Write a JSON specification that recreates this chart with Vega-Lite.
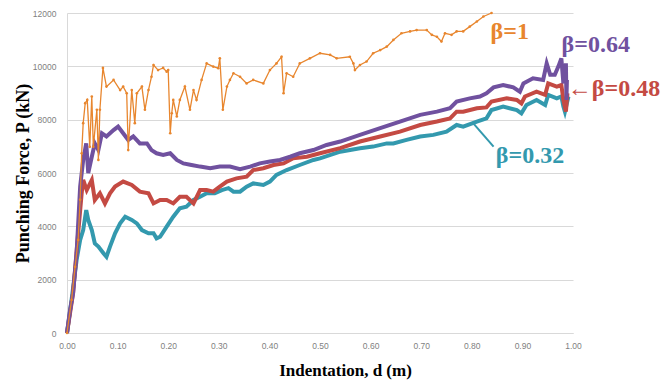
{
  "$schema": "https://vega.github.io/schema/vega-lite/v6.json",
  "width": 506,
  "height": 320,
  "autosize": {"type": "none"},
  "padding": {"left": 67, "top": 13, "right": 93, "bottom": 49},
  "background": "white",
  "config": {
    "view": {"stroke": null},
    "axis": {"labelFont": "Liberation Sans", "labelFontSize": 8.5, "labelColor": "#7f7f7f", "labelFlush": false, "titleFont": "Liberation Serif", "titleFontWeight": "bold", "titleColor": "#000000", "ticks": false, "gridColor": "#d9d9d9", "domainColor": "#d9d9d9"}
  },
  "datasets": {
    "curves": [
      {"s":"β=0.32","d":0,"p":0},{"s":"β=0.32","d":0.009,"p":1240},{"s":"β=0.32","d":0.019,"p":2740},{"s":"β=0.32","d":0.026,"p":3490},{"s":"β=0.32","d":0.032,"p":3860},{"s":"β=0.32","d":0.038,"p":4610},{"s":"β=0.32","d":0.042,"p":4240},{"s":"β=0.32","d":0.049,"p":3860},{"s":"β=0.32","d":0.055,"p":3360},{"s":"β=0.32","d":0.062,"p":3240},{"s":"β=0.32","d":0.072,"p":2990},{"s":"β=0.32","d":0.078,"p":2860},{"s":"β=0.32","d":0.085,"p":3240},{"s":"β=0.32","d":0.095,"p":3740},{"s":"β=0.32","d":0.105,"p":4110},{"s":"β=0.32","d":0.115,"p":4360},{"s":"β=0.32","d":0.128,"p":4240},{"s":"β=0.32","d":0.138,"p":4110},{"s":"β=0.32","d":0.148,"p":3860},{"s":"β=0.32","d":0.161,"p":3740},{"s":"β=0.32","d":0.171,"p":3740},{"s":"β=0.32","d":0.177,"p":3550},{"s":"β=0.32","d":0.184,"p":3610},{"s":"β=0.32","d":0.197,"p":3990},{"s":"β=0.32","d":0.21,"p":4360},{"s":"β=0.32","d":0.223,"p":4680},{"s":"β=0.32","d":0.236,"p":4740},{"s":"β=0.32","d":0.25,"p":4990},{"s":"β=0.32","d":0.263,"p":5110},{"s":"β=0.32","d":0.276,"p":5240},{"s":"β=0.32","d":0.292,"p":5240},{"s":"β=0.32","d":0.306,"p":5360},{"s":"β=0.32","d":0.319,"p":5430},{"s":"β=0.32","d":0.329,"p":5300},{"s":"β=0.32","d":0.342,"p":5300},{"s":"β=0.32","d":0.355,"p":5490},{"s":"β=0.32","d":0.368,"p":5610},{"s":"β=0.32","d":0.388,"p":5550},{"s":"β=0.32","d":0.401,"p":5680},{"s":"β=0.32","d":0.414,"p":5930},{"s":"β=0.32","d":0.434,"p":6110},{"s":"β=0.32","d":0.46,"p":6300},{"s":"β=0.32","d":0.487,"p":6490},{"s":"β=0.32","d":0.5,"p":6550},{"s":"β=0.32","d":0.54,"p":6800},{"s":"β=0.32","d":0.579,"p":6930},{"s":"β=0.32","d":0.605,"p":6990},{"s":"β=0.32","d":0.632,"p":7110},{"s":"β=0.32","d":0.645,"p":7110},{"s":"β=0.32","d":0.671,"p":7240},{"s":"β=0.32","d":0.698,"p":7370},{"s":"β=0.32","d":0.724,"p":7430},{"s":"β=0.32","d":0.75,"p":7550},{"s":"β=0.32","d":0.77,"p":7800},{"s":"β=0.32","d":0.783,"p":7740},{"s":"β=0.32","d":0.81,"p":7930},{"s":"β=0.32","d":0.829,"p":8050},{"s":"β=0.32","d":0.839,"p":8360},{"s":"β=0.32","d":0.862,"p":8490},{"s":"β=0.32","d":0.889,"p":8360},{"s":"β=0.32","d":0.898,"p":8240},{"s":"β=0.32","d":0.908,"p":8550},{"s":"β=0.32","d":0.928,"p":8740},{"s":"β=0.32","d":0.945,"p":8550},{"s":"β=0.32","d":0.951,"p":8930},{"s":"β=0.32","d":0.968,"p":8800},{"s":"β=0.32","d":0.977,"p":8870},{"s":"β=0.32","d":0.981,"p":8490},{"s":"β=0.32","d":0.984,"p":8300},{"s":"β=0.32","d":0.991,"p":8870},
      {"s":"β=0.48","d":0,"p":0},{"s":"β=0.48","d":0.012,"p":1490},{"s":"β=0.48","d":0.022,"p":3740},{"s":"β=0.48","d":0.029,"p":5240},{"s":"β=0.48","d":0.032,"p":5740},{"s":"β=0.48","d":0.039,"p":5360},{"s":"β=0.48","d":0.049,"p":5740},{"s":"β=0.48","d":0.055,"p":4990},{"s":"β=0.48","d":0.065,"p":5240},{"s":"β=0.48","d":0.075,"p":4860},{"s":"β=0.48","d":0.085,"p":5240},{"s":"β=0.48","d":0.095,"p":5490},{"s":"β=0.48","d":0.111,"p":5680},{"s":"β=0.48","d":0.128,"p":5550},{"s":"β=0.48","d":0.144,"p":5300},{"s":"β=0.48","d":0.161,"p":5240},{"s":"β=0.48","d":0.171,"p":4860},{"s":"β=0.48","d":0.184,"p":4990},{"s":"β=0.48","d":0.197,"p":4990},{"s":"β=0.48","d":0.21,"p":4860},{"s":"β=0.48","d":0.223,"p":5110},{"s":"β=0.48","d":0.236,"p":5110},{"s":"β=0.48","d":0.25,"p":4860},{"s":"β=0.48","d":0.263,"p":5360},{"s":"β=0.48","d":0.276,"p":5360},{"s":"β=0.48","d":0.289,"p":5300},{"s":"β=0.48","d":0.302,"p":5490},{"s":"β=0.48","d":0.316,"p":5680},{"s":"β=0.48","d":0.335,"p":5800},{"s":"β=0.48","d":0.355,"p":5860},{"s":"β=0.48","d":0.368,"p":6110},{"s":"β=0.48","d":0.388,"p":6180},{"s":"β=0.48","d":0.408,"p":6300},{"s":"β=0.48","d":0.428,"p":6360},{"s":"β=0.48","d":0.447,"p":6550},{"s":"β=0.48","d":0.474,"p":6610},{"s":"β=0.48","d":0.5,"p":6740},{"s":"β=0.48","d":0.54,"p":6930},{"s":"β=0.48","d":0.579,"p":7180},{"s":"β=0.48","d":0.619,"p":7370},{"s":"β=0.48","d":0.658,"p":7550},{"s":"β=0.48","d":0.698,"p":7800},{"s":"β=0.48","d":0.731,"p":7930},{"s":"β=0.48","d":0.757,"p":8050},{"s":"β=0.48","d":0.77,"p":8300},{"s":"β=0.48","d":0.783,"p":8300},{"s":"β=0.48","d":0.81,"p":8430},{"s":"β=0.48","d":0.829,"p":8460},{"s":"β=0.48","d":0.839,"p":8680},{"s":"β=0.48","d":0.869,"p":8800},{"s":"β=0.48","d":0.889,"p":8740},{"s":"β=0.48","d":0.898,"p":8610},{"s":"β=0.48","d":0.905,"p":8870},{"s":"β=0.48","d":0.928,"p":9050},{"s":"β=0.48","d":0.945,"p":8930},{"s":"β=0.48","d":0.951,"p":9360},{"s":"β=0.48","d":0.968,"p":9240},{"s":"β=0.48","d":0.977,"p":9300},{"s":"β=0.48","d":0.981,"p":8740},{"s":"β=0.48","d":0.986,"p":8300},{"s":"β=0.48","d":0.989,"p":8990},
      {"s":"β=0.64","d":0,"p":0},{"s":"β=0.64","d":0.006,"p":860},{"s":"β=0.64","d":0.012,"p":1490},{"s":"β=0.64","d":0.019,"p":3000},{"s":"β=0.64","d":0.026,"p":5490},{"s":"β=0.64","d":0.032,"p":6490},{"s":"β=0.64","d":0.038,"p":7110},{"s":"β=0.64","d":0.042,"p":6000},{"s":"β=0.64","d":0.049,"p":6610},{"s":"β=0.64","d":0.055,"p":7110},{"s":"β=0.64","d":0.062,"p":6860},{"s":"β=0.64","d":0.069,"p":7490},{"s":"β=0.64","d":0.078,"p":7370},{"s":"β=0.64","d":0.092,"p":7610},{"s":"β=0.64","d":0.101,"p":7740},{"s":"β=0.64","d":0.111,"p":7490},{"s":"β=0.64","d":0.121,"p":7240},{"s":"β=0.64","d":0.131,"p":7370},{"s":"β=0.64","d":0.144,"p":7110},{"s":"β=0.64","d":0.158,"p":7110},{"s":"β=0.64","d":0.167,"p":6860},{"s":"β=0.64","d":0.177,"p":6740},{"s":"β=0.64","d":0.19,"p":6680},{"s":"β=0.64","d":0.204,"p":6740},{"s":"β=0.64","d":0.217,"p":6490},{"s":"β=0.64","d":0.23,"p":6360},{"s":"β=0.64","d":0.246,"p":6300},{"s":"β=0.64","d":0.263,"p":6240},{"s":"β=0.64","d":0.283,"p":6180},{"s":"β=0.64","d":0.302,"p":6240},{"s":"β=0.64","d":0.322,"p":6240},{"s":"β=0.64","d":0.342,"p":6140},{"s":"β=0.64","d":0.362,"p":6240},{"s":"β=0.64","d":0.381,"p":6360},{"s":"β=0.64","d":0.401,"p":6430},{"s":"β=0.64","d":0.421,"p":6490},{"s":"β=0.64","d":0.441,"p":6610},{"s":"β=0.64","d":0.46,"p":6740},{"s":"β=0.64","d":0.487,"p":6860},{"s":"β=0.64","d":0.513,"p":7050},{"s":"β=0.64","d":0.54,"p":7180},{"s":"β=0.64","d":0.579,"p":7430},{"s":"β=0.64","d":0.619,"p":7680},{"s":"β=0.64","d":0.658,"p":7930},{"s":"β=0.64","d":0.698,"p":8180},{"s":"β=0.64","d":0.731,"p":8300},{"s":"β=0.64","d":0.757,"p":8430},{"s":"β=0.64","d":0.77,"p":8680},{"s":"β=0.64","d":0.796,"p":8800},{"s":"β=0.64","d":0.816,"p":8870},{"s":"β=0.64","d":0.829,"p":8990},{"s":"β=0.64","d":0.843,"p":9210},{"s":"β=0.64","d":0.862,"p":9300},{"s":"β=0.64","d":0.882,"p":9210},{"s":"β=0.64","d":0.895,"p":9050},{"s":"β=0.64","d":0.902,"p":9360},{"s":"β=0.64","d":0.921,"p":9550},{"s":"β=0.64","d":0.941,"p":9490},{"s":"β=0.64","d":0.948,"p":10110},{"s":"β=0.64","d":0.955,"p":9680},{"s":"β=0.64","d":0.964,"p":9680},{"s":"β=0.64","d":0.971,"p":9990},{"s":"β=0.64","d":0.977,"p":10300},{"s":"β=0.64","d":0.981,"p":9360},{"s":"β=0.64","d":0.986,"p":10110},{"s":"β=0.64","d":0.987,"p":8740},{"s":"β=0.64","d":0.988,"p":9490},
      {"s":"β=1","d":0,"p":0},{"s":"β=1","d":0.009,"p":1240},{"s":"β=1","d":0.016,"p":2480},{"s":"β=1","d":0.022,"p":3490},{"s":"β=1","d":0.026,"p":5000},{"s":"β=1","d":0.029,"p":6740},{"s":"β=1","d":0.032,"p":7870},{"s":"β=1","d":0.036,"p":8620},{"s":"β=1","d":0.04,"p":8740},{"s":"β=1","d":0.045,"p":6980},{"s":"β=1","d":0.049,"p":8870},{"s":"β=1","d":0.052,"p":6980},{"s":"β=1","d":0.059,"p":8370},{"s":"β=1","d":0.062,"p":6490},{"s":"β=1","d":0.065,"p":8370},{"s":"β=1","d":0.071,"p":9940},{"s":"β=1","d":0.078,"p":9240},{"s":"β=1","d":0.092,"p":9490},{"s":"β=1","d":0.105,"p":9110},{"s":"β=1","d":0.111,"p":9240},{"s":"β=1","d":0.118,"p":8990},{"s":"β=1","d":0.121,"p":6860},{"s":"β=1","d":0.128,"p":9110},{"s":"β=1","d":0.134,"p":7870},{"s":"β=1","d":0.138,"p":8990},{"s":"β=1","d":0.148,"p":9240},{"s":"β=1","d":0.154,"p":8370},{"s":"β=1","d":0.161,"p":9110},{"s":"β=1","d":0.167,"p":9610},{"s":"β=1","d":0.171,"p":10050},{"s":"β=1","d":0.18,"p":9860},{"s":"β=1","d":0.19,"p":9940},{"s":"β=1","d":0.197,"p":9800},{"s":"β=1","d":0.2,"p":9860},{"s":"β=1","d":0.204,"p":7490},{"s":"β=1","d":0.207,"p":8240},{"s":"β=1","d":0.21,"p":8740},{"s":"β=1","d":0.217,"p":8120},{"s":"β=1","d":0.223,"p":8740},{"s":"β=1","d":0.233,"p":9240},{"s":"β=1","d":0.243,"p":8370},{"s":"β=1","d":0.25,"p":9110},{"s":"β=1","d":0.256,"p":8740},{"s":"β=1","d":0.266,"p":9490},{"s":"β=1","d":0.276,"p":10110},{"s":"β=1","d":0.289,"p":9990},{"s":"β=1","d":0.299,"p":9930},{"s":"β=1","d":0.302,"p":10300},{"s":"β=1","d":0.308,"p":8370},{"s":"β=1","d":0.316,"p":9240},{"s":"β=1","d":0.322,"p":9490},{"s":"β=1","d":0.329,"p":9740},{"s":"β=1","d":0.342,"p":9610},{"s":"β=1","d":0.355,"p":9360},{"s":"β=1","d":0.368,"p":9490},{"s":"β=1","d":0.388,"p":9360},{"s":"β=1","d":0.401,"p":9860},{"s":"β=1","d":0.414,"p":10110},{"s":"β=1","d":0.424,"p":10360},{"s":"β=1","d":0.428,"p":8990},{"s":"β=1","d":0.434,"p":9740},{"s":"β=1","d":0.447,"p":9610},{"s":"β=1","d":0.46,"p":10110},{"s":"β=1","d":0.48,"p":10300},{"s":"β=1","d":0.5,"p":10490},{"s":"β=1","d":0.52,"p":10430},{"s":"β=1","d":0.533,"p":10300},{"s":"β=1","d":0.559,"p":10360},{"s":"β=1","d":0.566,"p":10110},{"s":"β=1","d":0.569,"p":9860},{"s":"β=1","d":0.579,"p":10050},{"s":"β=1","d":0.592,"p":10180},{"s":"β=1","d":0.605,"p":10490},{"s":"β=1","d":0.619,"p":10610},{"s":"β=1","d":0.632,"p":10740},{"s":"β=1","d":0.645,"p":10990},{"s":"β=1","d":0.661,"p":11240},{"s":"β=1","d":0.678,"p":11310},{"s":"β=1","d":0.691,"p":11360},{"s":"β=1","d":0.711,"p":11360},{"s":"β=1","d":0.721,"p":11180},{"s":"β=1","d":0.731,"p":11110},{"s":"β=1","d":0.74,"p":10930},{"s":"β=1","d":0.747,"p":11240},{"s":"β=1","d":0.76,"p":11180},{"s":"β=1","d":0.77,"p":11310},{"s":"β=1","d":0.783,"p":11310},{"s":"β=1","d":0.796,"p":11490},{"s":"β=1","d":0.81,"p":11680},{"s":"β=1","d":0.823,"p":11870},{"s":"β=1","d":0.839,"p":12000}
    ],
    "labels": [
      {"s":"β=1","t":"β=1","d":0.875,"p":11290},
      {"s":"β=0.64","t":"β=0.64","d":1.045,"p":10800},
      {"s":"β=0.48","t":"←β=0.48","d":1.081,"p":9150},
      {"s":"β=0.32","t":"β=0.32","d":0.915,"p":6640}
    ],
    "leader": [
      {"s":"β=0.32","d":0.803,"p":7860,"d2":0.843,"p2":6990}
    ]
  },
  "layer": [
    {
      "data": {"name": "curves"},
      "transform": [{"filter": "datum.s !== 'β=1'"}],
      "mark": {"type": "line", "strokeWidth": 4, "interpolate": "linear"},
      "encoding": {
        "x": {"field": "d", "type": "quantitative", "scale": {"domain": [0, 1]},
          "axis": {"values": [0,0.1,0.2,0.3,0.4,0.5,0.6,0.7,0.8,0.9,1.0], "format": ".2f", "grid": false, "domain": true, "labelPadding": 8,
            "title": "Indentation, d (m)", "titleFontSize": 17, "titleX": 278, "titleY": 37, "titleBaseline": "middle", "titleAlign": "center"}},
        "y": {"field": "p", "type": "quantitative", "scale": {"domain": [0, 12000]},
          "axis": {"values": [0,2000,4000,6000,8000,10000,12000], "format": "d", "grid": true, "domain": true, "labelPadding": 11,
            "title": "Punching Force, P (kN)", "titleFontSize": 18, "titleAngle": -90, "titleX": -44, "titleY": 160, "titleBaseline": "middle", "titleAlign": "center"}},
        "color": {"field": "s", "type": "nominal", "legend": null,
          "scale": {"domain": ["β=1","β=0.64","β=0.48","β=0.32"], "range": ["#E8862E","#70519F","#C44A43","#3399AE"]}},
        "order": {"field": "d", "type": "quantitative"}
      }
    },
    {
      "data": {"name": "curves"},
      "transform": [{"filter": "datum.s === 'β=1'"}],
      "mark": {"type": "line", "strokeWidth": 1.3, "point": {"filled": true, "size": 7}},
      "encoding": {
        "x": {"field": "d", "type": "quantitative"},
        "y": {"field": "p", "type": "quantitative"},
        "color": {"field": "s", "type": "nominal", "legend": null},
        "order": {"field": "d", "type": "quantitative"}
      }
    },
    {
      "data": {"name": "leader"},
      "mark": {"type": "rule", "strokeWidth": 2},
      "encoding": {
        "x": {"field": "d", "type": "quantitative"},
        "y": {"field": "p", "type": "quantitative"},
        "x2": {"field": "d2"},
        "y2": {"field": "p2"},
        "color": {"field": "s", "type": "nominal", "legend": null}
      }
    },
    {
      "data": {"name": "labels"},
      "mark": {"type": "text", "font": "Liberation Serif", "fontWeight": "bold", "fontSize": 24, "align": "center", "baseline": "middle"},
      "encoding": {
        "x": {"field": "d", "type": "quantitative"},
        "y": {"field": "p", "type": "quantitative"},
        "text": {"field": "t"},
        "color": {"field": "s", "type": "nominal", "legend": null}
      }
    }
  ]
}
